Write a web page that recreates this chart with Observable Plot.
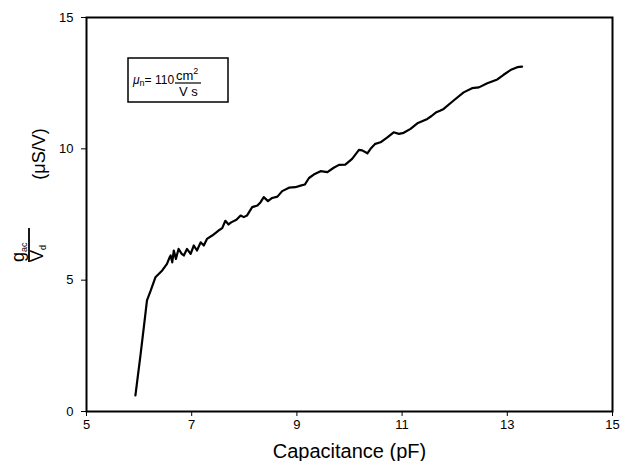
<!DOCTYPE html>
<html><head><meta charset="utf-8">
<script src="https://cdn.jsdelivr.net/npm/d3@7"></script>
<script src="https://cdn.jsdelivr.net/npm/@observablehq/plot@0.6"></script>
<style>body{margin:0;background:#fff}</style>
</head><body><div id="chart"></div>
<script>
const capacitance = [5.93, 6.03, 6.09, 6.15, 6.22, 6.31, 6.44, 6.53, 6.58, 6.60, 6.63, 6.66, 6.70, 6.75, 6.81, 6.85, 6.91, 6.98, 7.04, 7.10, 7.17, 7.23, 7.29, 7.39, 7.51, 7.58, 7.64, 7.70, 7.75, 7.85, 7.93, 7.99, 8.05, 8.15, 8.25, 8.31, 8.37, 8.45, 8.53, 8.63, 8.72, 8.85, 8.97, 9.07, 9.15, 9.23, 9.32, 9.45, 9.58, 9.70, 9.80, 9.92, 10.05, 10.18, 10.24, 10.34, 10.40, 10.49, 10.59, 10.72, 10.84, 10.94, 11.03, 11.16, 11.29, 11.38, 11.48, 11.56, 11.64, 11.72, 11.79, 11.98, 12.17, 12.33, 12.46, 12.62, 12.81, 12.93, 13.06, 13.19, 13.28];
const conductance = [0.61, 2.2, 3.21, 4.23, 4.6, 5.11, 5.37, 5.62, 5.87, 5.94, 5.68, 6.13, 5.81, 6.19, 6.0, 5.94, 6.19, 6.0, 6.32, 6.13, 6.44, 6.32, 6.57, 6.7, 6.89, 6.98, 7.26, 7.12, 7.2, 7.3, 7.46, 7.40, 7.46, 7.78, 7.84, 7.97, 8.16, 8.01, 8.13, 8.18, 8.39, 8.52, 8.54, 8.60, 8.64, 8.89, 9.02, 9.15, 9.11, 9.28, 9.39, 9.40, 9.62, 9.96, 9.94, 9.83, 10.0, 10.19, 10.25, 10.44, 10.63, 10.57, 10.61, 10.76, 10.97, 11.05, 11.14, 11.25, 11.38, 11.45, 11.52, 11.84, 12.15, 12.31, 12.34, 12.50, 12.64, 12.82, 13.0, 13.11, 13.13];
const xTicks = [5, 7, 9, 11, 13, 15];
const yTicks = [0, 5, 10, 15];
const xLabel = "Capacitance (pF)";

const data = capacitance.map((c, i) => ({c, g: conductance[i]}));

const plot = Plot.plot({
  width: 625, height: 461,
  marginLeft: 86, marginRight: 13, marginTop: 17, marginBottom: 50,
  style: {fontFamily: "'Liberation Sans', Arial, sans-serif", fontSize: "13px", background: "white", color: "black"},
  x: {domain: [5, 15]},
  y: {domain: [0, 15]},
  marks: [
    Plot.axisX({ticks: xTicks, tickSize: 5, tickPadding: 3, label: null, fontSize: 13}),
    Plot.axisY({ticks: yTicks, tickSize: 5, tickPadding: 8, label: null, fontSize: 13}),
    Plot.frame({stroke: "black", strokeWidth: 2}),
    Plot.line(data, {x: "c", y: "g", stroke: "black", strokeWidth: 2.2, strokeLinejoin: "round"}),
    Plot.text([xLabel], {text: d => d, frameAnchor: "bottom", lineAnchor: "middle", dy: 40, fontSize: 20, fill: "black"})
  ]
});
document.getElementById("chart").appendChild(plot);

const svg = d3.select(plot);
const ff = "'Liberation Sans', Arial, sans-serif";
// Y axis label: (μS/V)
svg.append("text")
  .attr("transform", "translate(39,154) rotate(-90)")
  .attr("text-anchor", "middle").attr("dy", "0.35em")
  .attr("font-family", ff).attr("font-size", 18).attr("fill", "black")
  .text("(μS/V)");
// Y axis label fraction g_ac / V_d
const fr = svg.append("g").attr("transform", "translate(29,245) rotate(-90)")
  .attr("font-family", ff).attr("fill", "black").attr("text-anchor", "start");
const num = fr.append("text").attr("x", -17).attr("y", -5).attr("font-size", 18).attr("text-anchor", "start");
num.append("tspan").text("g");
num.append("tspan").attr("font-size", 9).attr("dy", 3).text("ac");
fr.append("line").attr("x1", -17).attr("x2", 17).attr("y1", 0).attr("y2", 0)
  .attr("stroke", "black").attr("stroke-width", 1.8);
const den = fr.append("text").attr("x", -17).attr("y", 14).attr("font-size", 18).attr("text-anchor", "start");
den.append("tspan").text("V");
den.append("tspan").attr("font-size", 9).attr("dy", 3).text("d");

// Annotation box
const box = svg.append("g").attr("font-family", ff).attr("fill", "black").attr("text-anchor", "start");
box.append("rect").attr("x", 128).attr("y", 58).attr("width", 100).attr("height", 44)
  .attr("fill", "none").attr("stroke", "black").attr("stroke-width", 1.5);
const mu = box.append("text").attr("x", 133).attr("y", 84).attr("font-size", 12).attr("text-anchor", "start");
mu.append("tspan").attr("font-style", "italic").text("μ");
mu.append("tspan").attr("font-size", 9).attr("dy", 2).text("n");
mu.append("tspan").attr("dy", -2).text("= 110");
const cm = box.append("text").attr("x", 176).attr("y", 80).attr("font-size", 13).attr("text-anchor", "start");
cm.append("tspan").text("cm");
cm.append("tspan").attr("font-size", 9).attr("dy", -6).text("2");
box.append("line").attr("x1", 175).attr("x2", 201).attr("y1", 83).attr("y2", 83)
  .attr("stroke", "black").attr("stroke-width", 1.2);
box.append("text").attr("x", 179).attr("y", 96).attr("font-size", 13).attr("text-anchor", "start").text("V s");
</script>
</body></html>
